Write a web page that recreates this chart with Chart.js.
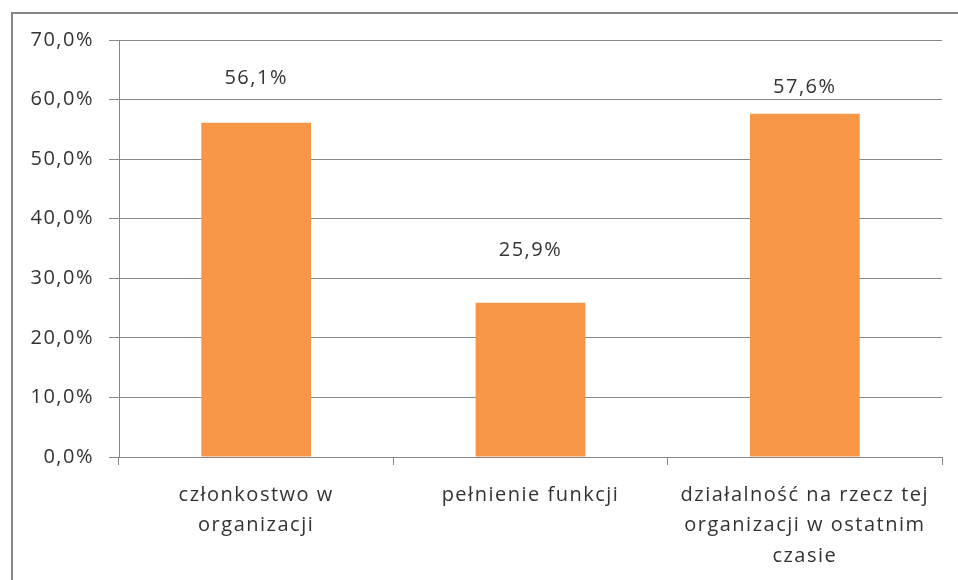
<!DOCTYPE html>
<html>
<head>
<meta charset="utf-8">
<script src="https://cdn.jsdelivr.net/npm/chart.js@4"></script>
<style>
  html, body { margin: 0; padding: 0; background: #fff; }
  #wrap { width: 958px; height: 580px; }
</style>
</head>
<body>
<div id="wrap"><canvas id="chart" width="958" height="580"></canvas></div>
<script>
// categories (multi-line labels) and values in %
const categories = [
    ['członkostwo w', 'organizacji'],
    ['pełnienie funkcji'],
    ['działalność na rzecz tej', 'organizacji w ostatnim', 'czasie']
];
const values = [56.1, 25.9, 57.6];
const yTicks = [0, 10, 20, 30, 40, 50, 60, 70];

// how far each value label sits above its bar (the labels were moved by hand)
const labelGaps = [45, 52, 27];

const fontFamily = '"Open Sans", sans-serif';
const fontSize = 20;
const textColor = '#333333';
const lineColor = '#888888';

function pct(v) {
    return v.toFixed(1).replace('.', ',') + '%';
}

// grey frame round the whole chart, plus the wider letter spacing of the original text
const frame = {
    id: 'frame',
    beforeDraw(chart) {
        const ctx = chart.ctx;
        ctx.letterSpacing = '1.5px';
        ctx.save();
        ctx.strokeStyle = '#868686';
        ctx.lineWidth = 2;
        ctx.strokeRect(12, 13, 1000, 1000);
        ctx.restore();
    }
};

const valueLabels = {
    id: 'valueLabels',
    afterDatasetsDraw(chart) {
        const ctx = chart.ctx;
        const meta = chart.getDatasetMeta(0);
        ctx.save();
        ctx.font = fontSize + 'px ' + fontFamily;
        ctx.fillStyle = textColor;
        ctx.textAlign = 'center';
        ctx.textBaseline = 'middle';
        meta.data.forEach(function(bar, i) {
            ctx.fillText(pct(values[i]), bar.x, bar.y - labelGaps[i]);
        });
        ctx.restore();
    }
};

const ctx = document.getElementById('chart').getContext('2d');
const chart = new Chart(ctx, {
    type: 'bar',
    data: {
        labels: categories,
        datasets: [{
            data: values,
            backgroundColor: '#F79646',
            borderWidth: 0,
            barPercentage: 1,
            categoryPercentage: 0.4
        }]
    },
    options: {
        responsive: false,
        animation: false,
        layout: { padding: { top: 40, right: 16, left: 0, bottom: 0 } },
        plugins: {
            legend: { display: false },
            tooltip: { enabled: false }
        },
        scales: {
            y: {
                min: 0,
                max: 70,
                afterFit: function(scale) { scale.width = 119; },
                afterBuildTicks: function(scale) {
                    scale.ticks = yTicks.map(function(v) { return { value: v }; });
                },
                ticks: {
                    color: textColor,
                    font: { family: fontFamily, size: fontSize },
                    padding: 15,
                    callback: function(v) { return pct(v); }
                },
                grid: { color: lineColor, lineWidth: 1, tickLength: 10 },
                border: { color: lineColor, width: 1 }
            },
            x: {
                afterFit: function(scale) { scale.height = 123; },
                ticks: {
                    color: textColor,
                    font: { family: fontFamily, size: fontSize, lineHeight: 1.52 },
                    padding: 15,
                    maxRotation: 0,
                    autoSkip: false
                },
                grid: {
                    offset: true,
                    drawOnChartArea: false,
                    color: lineColor,
                    tickLength: 8
                },
                border: { color: lineColor, width: 1 }
            }
        }
    },
    plugins: [frame, valueLabels]
});
</script>
</body>
</html>
